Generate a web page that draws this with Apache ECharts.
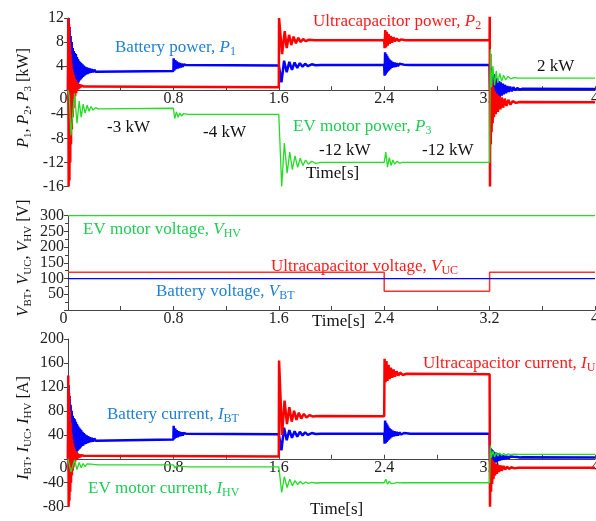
<!DOCTYPE html>
<html><head><meta charset="utf-8">
<script src="https://cdn.jsdelivr.net/npm/echarts@6/dist/echarts.min.js"></script>
<style>html,body{margin:0;padding:0;background:#fff}#c{width:596px;height:521px}</style>
</head><body><div id="c"></div>
<script>
// ---------- axis ticks ----------
const timeTicks = [0, 0.8, 1.6, 2.4, 3.2, 4];
const powerTicks = [-16, -12, -8, -4, 0, 4, 8, 12];
const voltageTicks = [0, 50, 100, 150, 200, 250, 300];
const currentTicks = [-80, -40, 0, 40, 80, 120, 160, 200];

// ---------- panel 1: power [kW] vs time [s] ----------
const p1Battery = [
 [0,0],[0.004,12],[0.008,-3.5],[0.012,10.5],[0.016,-3],[0.02,9],[0.024,-2.5],[0.028,8],[0.032,-2],[0.036,7],[0.04,-1],[0.044,6.5],[0.048,-0.5],[0.052,6.2],[0.056,0],[0.06,6],[0.064,0.5],[0.068,5.5],[0.072,1],[0.076,5.2],[0.08,1.3],[0.084,4.9],[0.088,1.6],[0.092,4.7],[0.096,1.8],[0.1,4.5],[0.105,2],[0.11,4.3],[0.115,2.2],[0.12,4.1],[0.125,2.4],[0.13,3.9],[0.136,2.6],[0.142,3.8],[0.148,2.7],[0.154,3.7],[0.16,2.8],[0.167,3.6],[0.174,2.9],[0.181,3.5],[0.19,3.0],[0.2,3.4],[0.21,3.05],[0.22,3.3],
 [0.8,3.2],[0.802,5.3],[0.808,3.3],[0.814,5],[0.82,3.5],[0.826,4.8],[0.832,3.6],[0.838,4.6],[0.844,3.7],[0.85,4.5],[0.857,3.8],[0.864,4.4],[0.871,3.9],[0.878,4.3],[0.886,4.0],[0.895,4.2],[0.91,4.1],
 [1.6,4.1],[1.62,1.3],[1.64,4.9],[1.66,3.0],[1.68,4.7],[1.7,3.4],[1.72,4.6],[1.74,3.7],[1.76,4.5],[1.78,3.9],[1.8,4.4],[1.82,4.0],[1.85,4.3],[1.88,4.15],[1.92,4.2],
 [2.4,4.2],[2.403,2.4],[2.407,6.3],[2.411,2.6],[2.415,6],[2.419,2.9],[2.423,5.7],[2.427,3.1],[2.431,5.4],[2.436,3.3],[2.441,5.1],[2.446,3.5],[2.452,4.9],[2.458,3.7],[2.464,4.7],[2.471,3.8],[2.478,4.6],[2.486,3.9],[2.495,4.5],[2.505,4.0],[2.515,4.4],[2.53,4.1],[2.55,4.25],[2.6,4.2],
 [3.2,4.2],[3.203,0],[3.207,3.8],[3.211,-2.9],[3.215,3.5],[3.219,-2.6],[3.223,3.1],[3.227,-2.3],[3.231,2.7],[3.235,-2],[3.24,2.3],[3.245,-1.7],[3.25,2],[3.255,-1.5],[3.26,1.7],[3.266,-1.3],[3.272,1.5],[3.278,-1.1],[3.285,1.3],[3.292,-0.9],[3.3,1.1],[3.308,-0.7],[3.316,0.9],[3.325,-0.5],[3.335,0.7],[3.345,-0.3],[3.356,0.6],[3.368,-0.2],[3.38,0.5],[3.395,0],[3.41,0.35],[3.43,0.1],[3.45,0.25],[4,0.2]
];
const p2Ultracap = [
 [0,0],[0.002,12],[0.005,-16],[0.008,11],[0.011,-15],[0.014,8],[0.017,-12],[0.02,6],[0.023,-9],[0.026,4.5],[0.029,-6.5],[0.032,3.5],[0.035,-4.5],[0.038,3],[0.041,-3],[0.044,2.5],[0.047,-2],[0.05,2],[0.054,-1],[0.058,1.7],[0.062,-0.5],[0.066,1.4],[0.07,0],[0.075,1.2],[0.08,0.2],[0.086,1],[0.092,0.4],[0.1,0.8],[0.11,0.5],[0.12,0.6],
 [1.6,0.5],[1.602,12],[1.605,12],[1.625,6],[1.645,9.8],[1.66,7],[1.678,9.2],[1.695,7.5],[1.712,8.9],[1.73,7.8],[1.748,8.7],[1.766,8.0],[1.785,8.5],[1.805,8.15],[1.83,8.4],[1.87,8.3],
 [2.4,8.3],[2.403,7],[2.408,10],[2.414,7.1],[2.42,9.7],[2.427,7.4],[2.434,9.3],[2.442,7.7],[2.45,9],[2.46,7.9],[2.47,8.8],[2.482,8.1],[2.495,8.6],[2.51,8.2],[2.53,8.45],[2.56,8.3],
 [3.2,8.3],[3.201,12.4],[3.203,-16],[3.206,6],[3.209,-9],[3.212,3],[3.215,-7],[3.219,1.5],[3.223,-5.5],[3.228,0.5],[3.233,-4.5],[3.24,-0.2],[3.247,-4],[3.255,-0.6],[3.263,-3.6],[3.272,-0.9],[3.282,-3.2],[3.292,-1.2],[3.303,-2.9],[3.315,-1.4],[3.328,-2.6],[3.342,-1.6],[3.358,-2.4],[3.375,-1.8],[3.4,-2.1],[3.43,-1.95],[4,-2]
];
const p3Motor = [
 [0,0],[0.01,-1],[0.022,-7.5],[0.05,-0.5],[0.068,-5.5],[0.085,-1.8],[0.1,-4.5],[0.115,-2.3],[0.13,-3.8],[0.145,-2.5],[0.16,-3.5],[0.175,-2.7],[0.19,-3.3],[0.21,-2.9],[0.23,-3.1],
 [0.8,-3.0],[0.81,-4.7],[0.823,-3.6],[0.836,-4.5],[0.849,-3.8],[0.862,-4.3],[0.875,-3.9],[0.89,-4.15],[0.91,-4.0],
 [1.6,-4.0],[1.622,-16],[1.642,-8.8],[1.663,-13.8],[1.683,-10.3],[1.703,-13.2],[1.723,-10.9],[1.743,-12.8],[1.763,-11.3],[1.783,-12.5],[1.803,-11.6],[1.825,-12.3],[1.85,-11.8],[1.88,-12.15],[1.92,-12],
 [2.4,-12],[2.412,-10.3],[2.425,-12.8],[2.438,-11.2],[2.452,-12.5],[2.466,-11.6],[2.48,-12.3],[2.497,-11.8],[2.515,-12.1],[2.54,-12],
 [3.2,-12],[3.206,6.8],[3.214,0.5],[3.225,4],[3.238,0.8],[3.25,3.2],[3.263,1.2],[3.277,2.8],[3.291,1.5],[3.306,2.5],[3.322,1.7],[3.34,2.3],[3.36,1.9],[3.385,2.1],[3.42,2],[4,2]
];

// ---------- panel 2: voltage [V] vs time [s] ----------
const vMotor = [[0,300],[4,300]];
const vUltracap = [[0,120],[2.4,120],[2.4,60],[3.2,60],[3.2,120],[4,120]];
const vBattery = [[0,100],[4,100]];

// ---------- panel 3: current [A] vs time [s] ----------
const iBattery = [
 [0,0],[0.004,123],[0.008,-20],[0.012,105],[0.016,-15],[0.02,90],[0.024,-8],[0.028,80],[0.032,-2],[0.036,72],[0.04,3],[0.044,68],[0.048,6],[0.052,66],[0.056,8],[0.06,62],[0.064,11],[0.068,58],[0.072,13],[0.076,55],[0.08,15],[0.084,52],[0.088,17],[0.092,50],[0.096,19],[0.1,48],[0.105,21],[0.11,45],[0.115,22],[0.12,43],[0.125,24],[0.13,41],[0.136,25],[0.142,39],[0.148,26],[0.154,38],[0.16,27],[0.167,36],[0.174,28],[0.181,35],[0.19,29],[0.2,34],[0.21,30],[0.22,33],
 [0.8,32],[0.802,55],[0.808,33],[0.814,51],[0.82,35],[0.826,48],[0.832,36],[0.838,46],[0.844,37],[0.85,45],[0.857,38],[0.864,44],[0.871,39],[0.878,43],[0.886,40],[0.895,42],[0.91,41],
 [1.6,41],[1.62,14],[1.64,52],[1.66,31],[1.68,48],[1.7,35],[1.72,46],[1.74,37],[1.76,45],[1.78,39],[1.8,44],[1.82,40],[1.85,43],[1.88,41.5],[1.92,42],
 [2.4,42],[2.403,25],[2.407,64],[2.411,26],[2.415,60],[2.419,28],[2.423,57],[2.427,30],[2.431,54],[2.436,32],[2.441,51],[2.446,34],[2.452,49],[2.458,36],[2.464,47],[2.471,37],[2.478,46],[2.486,38],[2.495,45],[2.505,39],[2.515,44],[2.53,40.5],[2.55,43],[2.6,42],
 [3.2,42],[3.203,-5],[3.207,18],[3.211,-12],[3.215,16],[3.219,-10],[3.223,14],[3.227,-9],[3.231,12],[3.235,-7],[3.24,11],[3.245,-6],[3.25,10],[3.255,-5],[3.26,9],[3.266,-4],[3.272,8],[3.278,-3],[3.285,7],[3.292,-2],[3.3,6],[3.308,-1],[3.316,5],[3.325,0],[3.335,4.5],[3.345,0.5],[3.356,4],[3.368,1],[3.38,3.5],[3.395,1.5],[3.41,3],[3.43,2],[3.45,2.5],[4,2.2]
];
const iUltracap = [
 [0,0],[0.002,139],[0.005,-80],[0.008,110],[0.011,-70],[0.014,80],[0.017,-55],[0.02,60],[0.023,-40],[0.026,42],[0.029,-28],[0.032,32],[0.035,-20],[0.038,25],[0.041,-14],[0.044,20],[0.047,-9],[0.05,16],[0.054,-5],[0.058,13],[0.062,-2],[0.066,11],[0.07,0],[0.075,9],[0.08,1.5],[0.086,7.5],[0.092,2.5],[0.1,6],[0.11,3.5],[0.12,5],
 [1.6,4],[1.602,164],[1.624,40],[1.644,97],[1.662,58],[1.68,86],[1.698,62],[1.716,80],[1.734,65],[1.752,77],[1.77,67],[1.79,75],[1.81,69],[1.835,73],[1.86,70.5],[1.9,71.5],
 [2.4,71],[2.403,167],[2.41,128],[2.417,163],[2.425,130],[2.433,157],[2.442,133],[2.451,152],[2.461,135],[2.471,149],[2.482,137],[2.494,146],[2.507,139],[2.52,144],[2.54,140],[2.57,142],
 [3.2,141],[3.203,-80],[3.207,10],[3.211,-55],[3.215,0],[3.219,-42],[3.224,-3],[3.229,-34],[3.235,-6],[3.241,-28],[3.248,-8],[3.255,-25],[3.263,-10],[3.272,-22],[3.282,-11],[3.293,-20],[3.305,-12],[3.318,-18],[3.332,-13],[3.348,-17],[3.365,-14],[3.39,-16],[3.42,-15],[4,-15]
];
const iMotor = [
 [0,0],[0.01,-3],[0.022,-22],[0.05,-2],[0.068,-18],[0.085,-6],[0.1,-15],[0.115,-8],[0.13,-13],[0.145,-8.5],[0.16,-11.5],[0.175,-9],[0.19,-11],[0.21,-9.7],[0.23,-10.3],
 [0.8,-10],[0.81,-15.5],[0.823,-12],[0.836,-15],[0.849,-12.7],[0.862,-14.3],[0.875,-13],[0.89,-13.8],[0.91,-13.4],
 [1.6,-13.4],[1.622,-56],[1.642,-30],[1.663,-48],[1.683,-34],[1.703,-45],[1.723,-36.5],[1.743,-43],[1.763,-38],[1.783,-42],[1.803,-38.8],[1.825,-41],[1.85,-39.4],[1.88,-40.4],[1.92,-40],
 [2.4,-40],[2.412,-34],[2.425,-42.5],[2.438,-37.5],[2.452,-41.5],[2.466,-38.5],[2.48,-40.8],[2.497,-39.3],[2.515,-40.3],[2.54,-40],
 [3.2,-40],[3.206,22],[3.214,2],[3.225,13],[3.238,3],[3.25,11],[3.263,4.5],[3.277,10],[3.291,5.5],[3.306,9],[3.322,6.3],[3.34,8.3],[3.36,7],[3.385,7.7],[3.42,7.5],[4,7.5]
];

// ---------- styling ----------
const FONT = '"Liberation Serif", "Times New Roman", serif';
const AX = '#444';
const BLUE = '#0000ff', RED = '#ff0000', GREEN = '#22dd22';
const TBLUE = '#1f7fd6', TRED = '#ff1a1a', TGREEN = '#1fcc55';

const grids = [
  {left: 68, right: 1, top: 18, height: 168.5, outerBoundsMode: 'none', containLabel: false},
  {left: 68, right: 1, top: 215.7, height: 94.3, outerBoundsMode: 'none', containLabel: false},
  {left: 68, right: 1, top: 339, height: 167.7, outerBoundsMode: 'none', containLabel: false}
];
const yTickSets = [powerTicks, voltageTicks, currentTicks];

// x axis drawn through y = 0 of its panel (offset measured up from the grid bottom)
function zeroOffset(i) {
  const t = yTickSets[i];
  const mn = t[0], mx = t[t.length - 1];
  return -grids[i].height * (0 - mn) / (mx - mn);
}

function xAxisFor(i) {
  return {
    type: 'value', gridIndex: i, position: 'bottom', offset: zeroOffset(i),
    min: timeTicks[0], max: timeTicks[timeTicks.length - 1], interval: timeTicks[1] - timeTicks[0],
    axisLine: {onZero: false, lineStyle: {color: AX, width: 1}},
    axisTick: {show: true, inside: true, length: 4, lineStyle: {color: AX}},
    minorTick: {show: true, splitNumber: 2, length: 4, lineStyle: {color: AX}},
    splitLine: {show: false},
    axisLabel: {
      margin: 1, fontSize: 16, fontFamily: FONT, color: '#222', showMinLabel: true, showMaxLabel: true,
      formatter: v => v === 0 ? '{z|0}' : String(+v.toFixed(1)),
      rich: {z: {padding: [0, 9, 0, 0], fontSize: 16, fontFamily: FONT, color: '#222'}}
    }
  };
}
// keep: which tick labels this axis prints (the densely packed voltage axis
// prints its labels through two overlaid left axes so none gets auto-hidden)
function yAxisFor(i, opts) {
  opts = opts || {};
  const ticks = yTickSets[i];
  const keep = opts.keep || (v => true);
  const labelOnly = !!opts.labelOnly;
  return {
    type: 'value', gridIndex: i, position: 'left', offset: 0,
    min: ticks[0], max: ticks[ticks.length - 1], interval: ticks[1] - ticks[0],
    axisLine: {show: !labelOnly, onZero: false, lineStyle: {color: AX, width: 1}},
    axisTick: {show: !labelOnly, inside: false, length: 4, lineStyle: {color: AX}},
    minorTick: {show: !labelOnly && !!opts.minor, splitNumber: opts.minor || 1, length: 3, lineStyle: {color: AX}},
    splitLine: {show: false},
    axisLabel: {
      margin: 4, fontSize: 16, lineHeight: 12,
      fontFamily: FONT, color: '#222',
      showMinLabel: true, showMaxLabel: true, hideOverlap: false,
      formatter: v => (v === 0 || !keep(v)) ? '' : String(v)
    }
  };
}
function line(data, color, width, gi, z) {
  return {
    type: 'line', data: data, xAxisIndex: gi, yAxisIndex: gi,
    showSymbol: false, symbol: 'none', sampling: null, z: z,
    lineStyle: {color: color, width: width}, silent: true
  };
}

function richSet(size) {
  return {
    t: {fontSize: size, fontFamily: FONT, lineHeight: 20},
    i: {fontSize: size, fontFamily: FONT, fontStyle: 'italic', lineHeight: 20},
    s: {fontSize: Math.round(size * 0.7), fontFamily: FONT, lineHeight: 10, verticalAlign: 'bottom'}
  };
}
function txt(text, x, y, color, opts) {
  opts = opts || {};
  const size = opts.size || 17;
  return {
    type: 'text', x: x, y: y, z: 20, silent: true,
    rotation: opts.rot || 0,
    style: {
      text: text, fill: color, rich: richSet(size),
      font: size + 'px ' + FONT,
      align: opts.align || 'left', verticalAlign: 'middle'
    }
  };
}

const graphics = [
  // panel 1
  txt('{t|Battery power, }{i|P}{s|1}', 115, 48, TBLUE),
  txt('{t|Ultracapacitor power, }{i|P}{s|2}', 313, 22, TRED),
  txt('{t|EV motor power, }{i|P}{s|3}', 293, 127, TGREEN),
  txt('{t|-3 kW}', 107, 128, '#111'),
  txt('{t|-4 kW}', 203, 133, '#111'),
  txt('{t|-12 kW}', 319, 151, '#111'),
  txt('{t|-12 kW}', 422, 151, '#111'),
  txt('{t|2 kW}', 537, 67, '#111'),
  txt('{t|Time[s]}', 306, 174, '#111'),
  txt('{i|P}{s|1}{t|, }{i|P}{s|2}{t|, }{i|P}{s|3}{t| [kW]}', 24, 98, '#111', {rot: Math.PI / 2, align: 'center', size: 16}),
  // panel 2
  txt('{t|EV motor voltage, }{i|V}{s|HV}', 83, 230, TGREEN),
  txt('{t|Ultracapacitor voltage, }{i|V}{s|UC}', 271, 267, TRED),
  txt('{t|Battery voltage, }{i|V}{s|BT}', 156, 292, TBLUE),
  txt('{t|Time[s]}', 312, 322, '#111'),
  txt('{i|V}{s|BT}{t|, }{i|V}{s|UC}{t|, }{i|V}{s|HV}{t| [V]}', 24, 258, '#111', {rot: Math.PI / 2, align: 'center', size: 16}),
  // panel 3
  txt('{t|Battery current, }{i|I}{s|BT}', 107, 415, TBLUE),
  txt('{t|Ultracapacitor current, }{i|I}{s|UC}', 423, 364, TRED),
  txt('{t|EV motor current, }{i|I}{s|HV}', 88, 489, TGREEN),
  txt('{t|Time[s]}', 310, 510, '#111'),
  txt('{i|I}{s|BT}{t|, }{i|I}{s|UC}{t|, }{i|I}{s|HV}{t| [A]}', 24, 428, '#111', {rot: Math.PI / 2, align: 'center', size: 16})
];

const evenV = v => voltageTicks.indexOf(v) % 2 === 0;
const oddV = v => voltageTicks.indexOf(v) % 2 === 1;

const chart = echarts.init(document.getElementById('c'), null, {renderer: 'canvas', width: 596, height: 521});
chart.setOption({
  animation: false,
  backgroundColor: '#fff',
  grid: grids,
  xAxis: [xAxisFor(0), xAxisFor(1), xAxisFor(2)],
  yAxis: [
    yAxisFor(0),
    yAxisFor(1, {minor: 2, keep: evenV}),
    yAxisFor(2),
    yAxisFor(1, {labelOnly: true, keep: oddV})
  ],
  series: [
    line(p1Battery, BLUE, 2.5, 0, 2),
    line(p2Ultracap, RED, 2.5, 0, 3),
    line(p3Motor, GREEN, 1.3, 0, 4),
    line(vMotor, GREEN, 1.3, 1, 2),
    line(vUltracap, '#ff3030', 1.5, 1, 3),
    line(vBattery, BLUE, 1.3, 1, 4),
    line(iBattery, BLUE, 2.5, 2, 2),
    line(iUltracap, RED, 2.5, 2, 3),
    line(iMotor, GREEN, 1.3, 2, 4)
  ],
  graphic: graphics
});
</script>
</body></html>
